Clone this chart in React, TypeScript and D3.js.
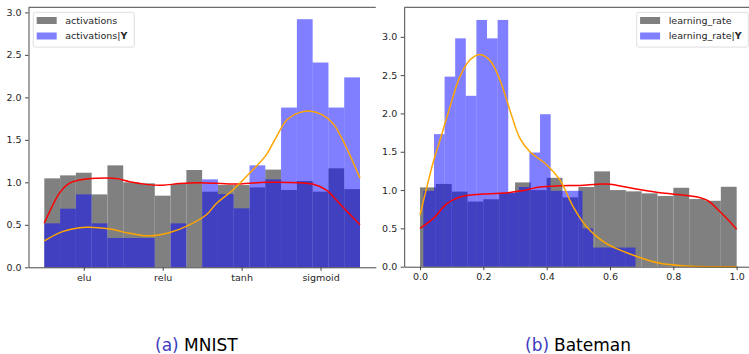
import React, { useEffect, useRef } from 'react';
import * as d3 from 'd3';

// left panel: activations (categorical, encoded 0..3)
const actCategories = ['elu', 'relu', 'tanh', 'sigmoid'];
const actBinRange: [number, number] = [-0.5, 3.5];
const actGray = [1.047, 1.082, 1.113, 0.858, 1.2, 1.0, 0.988, 0.843, 0.98, 1.145, 0.89, 0.968, 0.968, 0.94, 1.15, 0.91, 1.015, 0.89, 1.165, 0.92];
const actBlue = [0.517, 0.69, 0.858, 0.517, 0.345, 0.345, 0.345, 0, 0.517, 0, 1.035, 0.862, 0.694, 1.2, 1.035, 1.88, 2.92, 2.41, 1.88, 2.235];
const actRed: [number, number][] = [
  [-0.5, 0.52], [-0.435, 0.65], [-0.31, 0.87], [-0.18, 0.99], [-0.055, 1.027], [0.157, 1.047], [0.41, 1.045],
  [0.58, 1.007], [0.79, 0.976], [1.0, 0.966], [1.21, 0.985], [1.47, 0.995], [1.89, 0.98], [2.31, 1.0],
  [2.73, 0.995], [2.9, 0.98], [3.07, 0.91], [3.24, 0.75], [3.5, 0.5],
];
const actOrange: [number, number][] = [
  [-0.5, 0.31], [-0.27, 0.42], [0.03, 0.47], [0.33, 0.45], [0.58, 0.4], [0.83, 0.37], [1.09, 0.41], [1.34, 0.5],
  [1.55, 0.615], [1.68, 0.75], [1.89, 0.91], [2.1, 1.106], [2.31, 1.32], [2.42, 1.5], [2.57, 1.73], [2.73, 1.82],
  [2.86, 1.84], [3.03, 1.79], [3.16, 1.69], [3.28, 1.5], [3.5, 1.05],
];

// right panel: learning rate
const lrGrayRange: [number, number] = [0, 1];
const lrBlueRange: [number, number] = [0.0105, 0.6805];
const lrGray = [1.035, 1.08, 0.98, 0.85, 0.88, 0.96, 1.1, 1.0, 1.16, 0.905, 1.04, 1.244, 1.0, 0.983, 0.957, 0.922, 1.03, 0.883, 0.86, 1.043];
const lrBlue = [0.99, 1.73, 2.48, 2.98, 2.23, 3.22, 2.98, 3.22, 0.97, 1.04, 1.49, 1.99, 0.99, 0.99, 0.99, 0.5, 0.25, 0.25, 0.25, 0.25];
const lrRed: [number, number][] = [
  [0, 0.5], [0.042, 0.63], [0.084, 0.82], [0.126, 0.91], [0.19, 0.945], [0.253, 0.957], [0.316, 0.987],
  [0.379, 1.04], [0.442, 1.056], [0.505, 1.06], [0.59, 1.078], [0.674, 1.02], [0.758, 0.965], [0.842, 0.93],
  [0.905, 0.87], [0.947, 0.72], [1.0, 0.49],
];
const lrOrange: [number, number][] = [
  [0, 0.675], [0.018, 0.98], [0.042, 1.37], [0.063, 1.65], [0.095, 2.09], [0.126, 2.48], [0.158, 2.7],
  [0.189, 2.77], [0.221, 2.69], [0.253, 2.43], [0.284, 2.04], [0.316, 1.67], [0.347, 1.5], [0.4, 1.33],
  [0.442, 1.13], [0.484, 0.78], [0.526, 0.52], [0.589, 0.3], [0.674, 0.15], [0.758, 0.044], [0.842, 0.01],
  [0.92, 0], [1.0, 0],
];
const lrTicks = [0, 0.2, 0.4, 0.6, 0.8, 1.0];
const yTicks = [0, 0.5, 1.0, 1.5, 2.0, 2.5, 3.0];

const FONT = 'DejaVu Sans';

interface IPanel {
  left: number;
  right: number;
  top: number;
  bottom: number;
  xDomain: [number, number];
  yMax: number;
  xTicks: number[];
  xFormat: (d: number) => string;
  gray: number[];
  grayRange: [number, number];
  blue: number[];
  blueRange: [number, number];
  red: [number, number][];
  orange: [number, number][];
  legend: { x: number; w: number; label: string };
}

const App: React.FC = () => {
  const svgRef = useRef<SVGSVGElement>(null);

  useEffect(() => {
    if (svgRef.current) {
      const svg = d3.select(svgRef.current);
      svg.selectAll('*').remove();
      drawPanel(svg, {
        left: 28.5,
        right: 375.8,
        top: 7.3,
        bottom: 267.3,
        xDomain: [-0.7, 3.7],
        yMax: 3.06,
        xTicks: [0, 1, 2, 3],
        xFormat: (d) => actCategories[d],
        gray: actGray,
        grayRange: actBinRange,
        blue: actBlue,
        blueRange: actBinRange,
        red: actRed,
        orange: actOrange,
        legend: { x: 33.3, w: 101, label: 'activations' },
      });
      drawPanel(svg, {
        left: 404.2,
        right: 752.5,
        top: 7.3,
        bottom: 266.7,
        xDomain: [-0.05, 1.05],
        yMax: 3.385,
        xTicks: lrTicks,
        xFormat: d3.format('.1f'),
        gray: lrGray,
        grayRange: lrGrayRange,
        blue: lrBlue,
        blueRange: lrBlueRange,
        red: lrRed,
        orange: lrOrange,
        legend: { x: 636.7, w: 111.6, label: 'learning_rate' },
      });

      // subfigure captions
      const captions = [
        { x: 155, tag: '(a)', name: 'MNIST' },
        { x: 525, tag: '(b)', name: 'Bateman' },
      ];
      captions.forEach((c) => {
        const t = svg
          .append('text')
          .attr('y', 351)
          .style('font-family', FONT)
          .style('font-size', '17px');
        t.append('tspan').attr('x', c.x).attr('fill', '#3c3cbe').text(c.tag);
        t.append('tspan').attr('x', c.x + 29).attr('fill', '#000').text(c.name);
      });
    }
  }, [svgRef]);

  return (
    <svg
      ref={svgRef}
      width={749}
      height={354}
      style={{ position: 'absolute', left: 0, top: 0, background: '#fff' }}
    />
  );
};

const drawPanel = (svg: d3.Selection<SVGSVGElement, unknown, null, undefined>, p: IPanel) => {
  const x = d3.scaleLinear().domain(p.xDomain).range([p.left, p.right]);
  const y = d3.scaleLinear().domain([0, p.yMax]).range([p.bottom, p.top]);
  const g = svg.append('g');

  const bars = (vals: number[], range: [number, number], fill: string, opacity: number) => {
    const w = (range[1] - range[0]) / vals.length;
    g.append('g')
      .selectAll('rect')
      .data(vals)
      .enter()
      .append('rect')
      .attr('x', (_, i) => x(range[0] + i * w))
      .attr('width', (_, i) => x(range[0] + (i + 1) * w) - x(range[0] + i * w))
      .attr('y', (d) => y(d))
      .attr('height', (d) => y(0) - y(d))
      .attr('fill', fill)
      .attr('fill-opacity', opacity);
  };
  bars(p.gray, p.grayRange, '#808080', 1);
  bars(p.blue, p.blueRange, '#0000ff', 0.5);

  const line = d3
    .line<[number, number]>()
    .x((d) => x(d[0]))
    .y((d) => y(d[1]))
    .curve(d3.curveCatmullRom);
  g.append('path').attr('d', line(p.red)).attr('fill', 'none').attr('stroke', '#ff0000').attr('stroke-width', 1.5);
  g.append('path').attr('d', line(p.orange)).attr('fill', 'none').attr('stroke', '#ffa500').attr('stroke-width', 1.5);

  const yAxisG = g.append('g').attr('transform', `translate(${p.left}, 0)`);
  yAxisG.call(d3.axisLeft(y).tickValues(yTicks).tickFormat(d3.format('.1f')).tickSize(3.5).tickSizeOuter(0).tickPadding(3.5));
  const xAxisG = g.append('g').attr('transform', `translate(0, ${p.bottom})`);
  xAxisG.call(
    d3
      .axisBottom(x)
      .tickValues(p.xTicks)
      .tickFormat((d) => p.xFormat(d as number))
      .tickSize(3.5)
      .tickSizeOuter(0)
      .tickPadding(3.5)
  );
  g.append('line')
    .attr('x1', p.left)
    .attr('x2', p.right)
    .attr('y1', p.top)
    .attr('y2', p.top)
    .attr('stroke', '#333')
    .attr('stroke-width', 0.9);

  g.selectAll('.domain').attr('stroke', '#333').attr('stroke-width', 0.9);
  g.selectAll('.tick line').attr('stroke', '#333').attr('stroke-width', 0.9);
  g.selectAll('.tick text').style('font-family', FONT).style('font-size', '9.5px').attr('fill', '#262626');

  // legend
  const lg = g.append('g');
  lg.append('rect')
    .attr('x', p.legend.x)
    .attr('y', 12.3)
    .attr('width', p.legend.w)
    .attr('height', 34.8)
    .attr('rx', 2)
    .attr('fill', '#fff')
    .attr('fill-opacity', 0.8)
    .attr('stroke', '#d6d6d6')
    .attr('stroke-width', 0.8);
  const items = [
    { fill: '#808080', label: p.legend.label, bold: '' },
    { fill: '#8080ff', label: p.legend.label + '|', bold: 'Y' },
  ];
  items.forEach((it, i) => {
    const cy = 20.5 + i * 15.5;
    lg.append('rect')
      .attr('x', p.legend.x + 3.4)
      .attr('y', cy - 3.5)
      .attr('width', 20)
      .attr('height', 7)
      .attr('fill', it.fill);
    const t = lg
      .append('text')
      .attr('x', p.legend.x + 32)
      .attr('y', cy + 3.4)
      .style('font-family', FONT)
      .style('font-size', '9.5px')
      .attr('fill', '#262626')
      .text(it.label);
    if (it.bold) t.append('tspan').style('font-weight', 'bold').text(it.bold);
  });
};

export default App;
